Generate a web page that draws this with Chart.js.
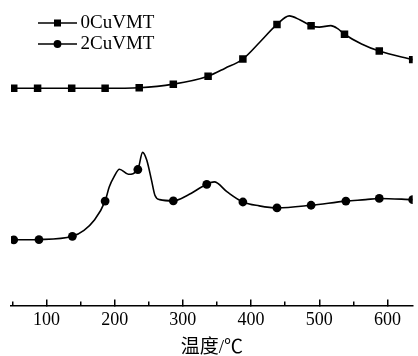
<!DOCTYPE html>
<html>
<head>
<meta charset="utf-8">
<script src="https://cdn.jsdelivr.net/npm/chart.js@4/dist/chart.umd.min.js"></script>
<style>
  html, body { margin: 0; padding: 0; background: #fff; }
  #wrap { width: 418px; height: 356px; }
</style>
</head>
<body>
<div id="wrap"><canvas id="chart"></canvas></div>
<script>
'use strict';

// temperature (°C) and signal (a.u.)
let temps0 = [48, 52, 87, 137, 186, 236, 286, 337, 362, 388, 412, 438, 456, 472, 488, 500, 517, 527, 537, 562, 588, 637];
let signal0 = [73.5, 73.5, 73.5, 73.5, 73.5, 73.7, 74.9, 77.6, 80.3, 83.4, 88.9, 95.1, 98.0, 96.6, 94.7, 94.2, 94.7, 93.7, 91.8, 88.5, 86.1, 83.2];

let temps2 = [48, 52, 89, 138, 155, 170, 186, 192, 199, 207, 220, 234, 241, 247, 254, 259, 266, 286, 307, 335, 346, 365, 388, 412, 438, 488, 539, 568, 588, 637];
let signal2 = [22.2, 22.2, 22.3, 23.4, 25.4, 28.8, 35.3, 40.1, 43.5, 46.1, 44.4, 46.0, 51.8, 49.2, 42.4, 37.3, 35.8, 35.4, 37.3, 41.0, 41.8, 38.4, 35.0, 33.7, 33.0, 33.9, 35.3, 35.8, 36.2, 35.8];

// where the symbols sit on each curve
let markTemps0 = [52, 87, 137, 186, 236, 286, 337, 388, 438, 488, 537, 588, 637];
let markTemps2 = [52, 89, 138, 186, 234, 286, 335, 388, 438, 488, 539, 588, 637];

let seriesNames = ['0CuVMT', '2CuVMT'];
let majorTicks = [100, 200, 300, 400, 500, 600];
let minorTicks = [50, 150, 250, 350, 450, 550];

let serif = "'Liberation Serif', 'Noto Sans CJK SC', serif";

function toPoints(xs, ys) {
  let pts = [];
  for (let i = 0; i < xs.length; i++) {
    pts.push({ x: xs[i], y: ys[i] });
  }
  return pts;
}

// small line + symbol picture, used as the legend's point style
function legendIcon(style) {
  let c = document.createElement('canvas');
  c.width = 70;
  c.height = 12;
  let g = c.getContext('2d');
  g.strokeStyle = '#000';
  g.lineWidth = 1.6;
  g.beginPath();
  g.moveTo(31, 6);
  g.lineTo(70, 6);
  g.stroke();
  g.fillStyle = '#000';
  if (style === 'rect') {
    g.fillRect(47, 2.5, 7, 7);
  } else {
    g.beginPath();
    g.arc(50.5, 6, 3.9, 0, Math.PI * 2);
    g.fill();
  }
  return c;
}

function makeSeries(label, xs, ys, marks, style, radius) {
  return {
    label: label,
    data: toPoints(xs, ys),
    borderColor: '#000',
    borderWidth: 1.6,
    backgroundColor: '#000',
    pointStyle: style,
    pointBackgroundColor: '#000',
    pointBorderWidth: 0,
    pointRadius: (ctx) => marks.includes(xs[ctx.dataIndex]) ? radius : 0,
    pointHoverRadius: 0,
    cubicInterpolationMode: 'monotone',
    fill: false
  };
}

let canvasElem = document.getElementById('chart');

new Chart(canvasElem, {
  type: 'line',
  data: {
    datasets: [
      makeSeries(seriesNames[0], temps0, signal0, markTemps0, 'rect', 5.3),
      makeSeries(seriesNames[1], temps2, signal2, markTemps2, 'circle', 4.4)
    ]
  },
  options: {
    animation: false,
    responsive: true,
    maintainAspectRatio: false,
    events: [],
    layout: { padding: { left: 11, top: 10, right: 0, bottom: 0 } },
    scales: {
      x: {
        type: 'linear',
        min: 48,
        max: 637,
        afterBuildTicks: (scale) => { scale.ticks = majorTicks.map(v => ({ value: v })); },
        border: { color: '#000', width: 1.5 },
        grid: { drawOnChartArea: false, tickLength: -6, color: '#000', lineWidth: 1.5 },
        ticks: { color: '#000', padding: 10, maxRotation: 0, font: { family: serif, size: 18 } },
        title: {
          display: true,
          text: '温度/℃',
          color: '#000',
          font: { family: serif, size: 19, lineHeight: 1 },
          padding: { top: -2.5, bottom: -1.5 }
        }
      },
      xm: {
        type: 'linear',
        axis: 'x',
        position: { y: 0 },
        min: 48,
        max: 637,
        afterBuildTicks: (scale) => { scale.ticks = minorTicks.map(v => ({ value: v })); },
        border: { display: false },
        grid: { drawOnChartArea: false, tickLength: -3.5, color: '#000', lineWidth: 1.5 },
        ticks: { display: false }
      },
      y: {
        display: false,
        min: 0,
        max: 100
      }
    },
    plugins: {
      tooltip: { enabled: false },
      legend: {
        position: 'chartArea',
        align: 'start',
        // empty title only pushes the rows down a little
        title: { display: true, text: '', font: { size: 11.5, lineHeight: 1 }, padding: 0 },
        labels: {
          usePointStyle: true,
          pointStyleWidth: 58,
          padding: 2,
          color: '#000',
          font: { family: serif, size: 19 },
          generateLabels: (chart) => chart.data.datasets.map((ds, i) => ({
            text: ds.label,
            datasetIndex: i,
            fontColor: '#000',
            pointStyle: legendIcon(ds.pointStyle),
            lineWidth: 0,
            strokeStyle: 'rgba(0,0,0,0)',
            fillStyle: 'rgba(0,0,0,0)'
          }))
        }
      }
    }
  }
});
</script>
</body>
</html>
